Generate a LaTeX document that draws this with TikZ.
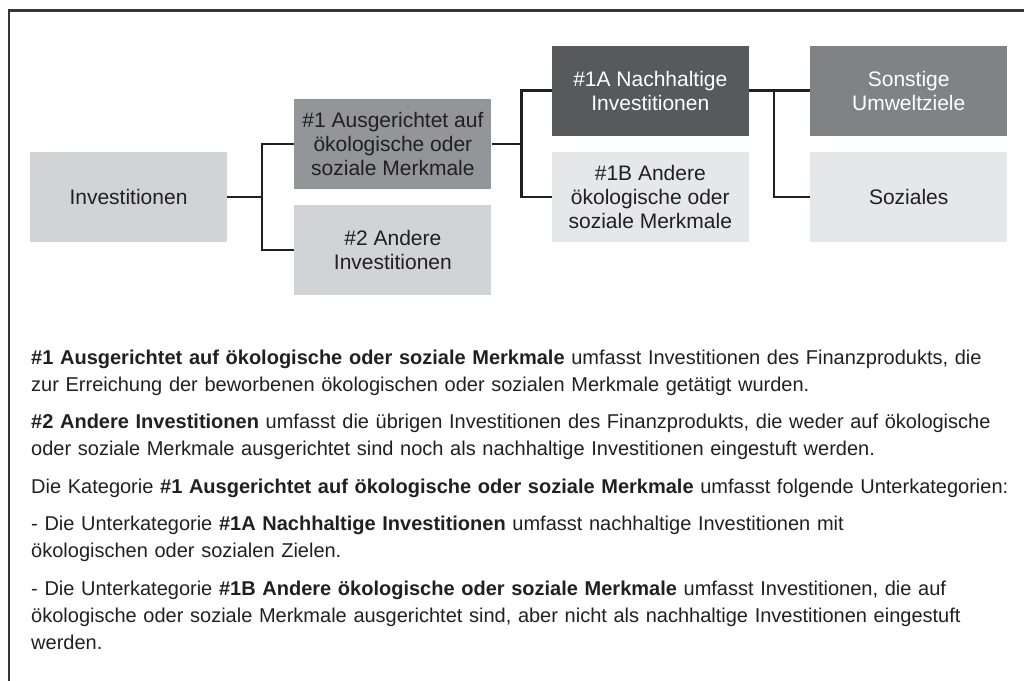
\documentclass[tikz,border=0pt]{standalone}
\usepackage{fontspec}
\setmainfont{Liberation Sans}
\usetikzlibrary{positioning}
\definecolor{txtdark}{HTML}{231F20}
\definecolor{boxlight}{HTML}{D1D3D4}
\definecolor{boxmid}{HTML}{939598}
\definecolor{boxdark}{HTML}{58595B}
\definecolor{boxgrey}{HTML}{808285}
\definecolor{boxpale}{HTML}{E6E7E8}
\tikzset{
  catbox/.style={minimum width=197pt, minimum height=90pt, inner sep=0pt,
    align=center, text=txtdark, font=\fontsize{21}{24}\selectfont},
  tree/.style={line width=2.4pt, draw=txtdark}
}

\begin{document}
\begin{tikzpicture}[x=1pt,y=1pt]
  \useasboundingbox (0,0) rectangle (1024,-680);
  % outer frame
  \draw[line width=2.5pt, draw=txtdark!90] (9,-700) |- (1040,-10.5);
  % category tree
  \node (inv) [catbox, fill=boxlight] at (128.5,-197) {Investitionen};
  \node (ausg) [catbox, fill=boxmid, above right=8pt and 67pt of inv.east] {\#1 Ausgerichtet auf\\ökologische oder\\soziale Merkmale};
  \node (andere) [catbox, fill=boxlight, below right=8pt and 67pt of inv.east] {\#2 Andere\\Investitionen};
  \node (nach) [catbox, fill=boxdark, text=white, above right=8pt and 60pt of ausg.east] {\#1A Nachhaltige\\Investitionen};
  \node (anderemm) [catbox, fill=boxpale, below right=8pt and 60pt of ausg.east] {\#1B Andere\\ökologische oder\\soziale Merkmale};
  \node (sonst) [catbox, fill=boxgrey, text=white, right=61pt of nach] {Sonstige\\Umweltziele};
  \node (soz) [catbox, fill=boxpale, below=16pt of sonst] {Soziales};
  % branch points
  \coordinate [right=35pt of inv.east] (j1);
  \coordinate [right=30pt of ausg.east] (j2);
  \coordinate [right=25pt of nach.east] (j3);
  % connectors
  \draw[tree] (inv.east) -- (j1) |- (ausg.west);
  \draw[tree] (j1) |- (andere.west);
  \draw[tree] (ausg.east) -- (j2) |- (nach.west);
  \draw[tree] (j2) |- (anderemm.west);
  \draw[tree] (nach.east) -- (sonst.west);
  \draw[tree] (j3) |- (soz.west);
  % explanations
  \node (notes) [anchor=north west, text width=995pt, align=left, inner sep=0pt,
    text=txtdark, font=\fontsize{20}{27}\selectfont] at (31,-349.5) {%
    \textbf{\#1 Ausgerichtet auf ökologische oder soziale Merkmale} umfasst Investitionen des Finanzprodukts, die\\
    zur Erreichung der beworbenen ökologischen oder sozialen Merkmale getätigt wurden.\\[10.5pt]
    \textbf{\#2 Andere Investitionen} umfasst die übrigen Investitionen des Finanzprodukts, die weder auf ökologische\\
    oder soziale Merkmale ausgerichtet sind noch als nachhaltige Investitionen eingestuft werden.\\[10.5pt]
    Die Kategorie \textbf{\#1 Ausgerichtet auf ökologische oder soziale Merkmale} umfasst folgende Unterkategorien:\\[10.5pt]
    - Die Unterkategorie \textbf{\#1A Nachhaltige Investitionen} umfasst nachhaltige Investitionen mit\\
    ökologischen oder sozialen Zielen.\\[10.5pt]
    - Die Unterkategorie \textbf{\#1B Andere ökologische oder soziale Merkmale} umfasst Investitionen, die auf\\
    ökologische oder soziale Merkmale ausgerichtet sind, aber nicht als nachhaltige Investitionen eingestuft\\
    werden.};
\end{tikzpicture}
\end{document}
